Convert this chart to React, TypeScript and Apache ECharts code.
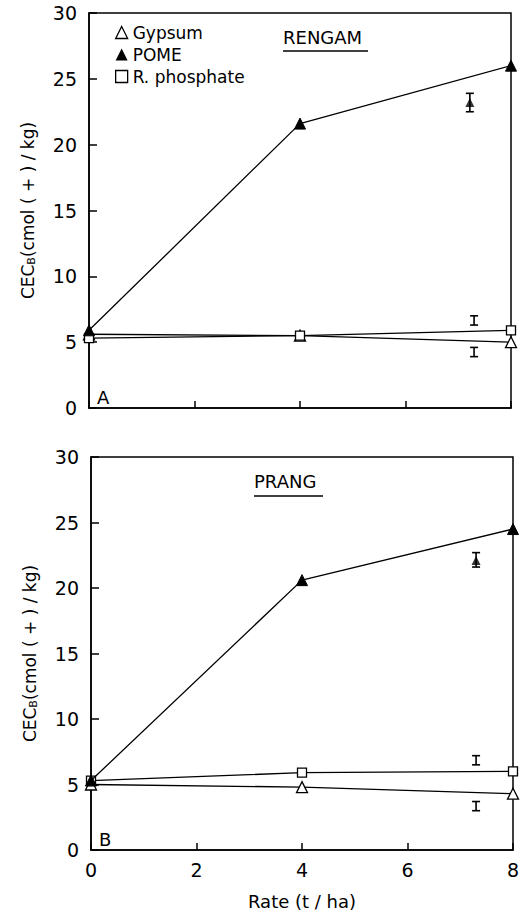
import React, { useEffect, useRef } from "react";
import * as echarts from "echarts";

const rates = [0, 4, 8];
const xTicks = [0, 2, 4, 6, 8];
const yTicks = [0, 5, 10, 15, 20, 25, 30];

const rengamGypsum = [5.6, 5.5, 5.0];
const rengamPome = [5.9, 21.6, 26.0];
const rengamRphos = [5.3, 5.5, 5.9];
const prangGypsum = [5.0, 4.8, 4.3];
const prangPome = [5.3, 20.6, 24.5];
const prangRphos = [5.3, 5.9, 6.0];

// error / LSD bars: [x, low, high]
const rengamBars = [
  [7.22, 22.5, 23.9],
  [7.3, 6.3, 7.0],
  [7.3, 3.9, 4.6],
];
const rengamPomeMean = [[7.22, 23.2]];
const prangBars = [
  [7.3, 21.6, 22.7],
  [7.3, 6.5, 7.2],
  [7.3, 3.0, 3.7],
];
const prangPomeMean = [[7.3, 22.1]];

const FONT = "DejaVu Sans";

export default function App() {
  const ref = useRef<HTMLDivElement>(null);
  useEffect(() => {
    if (!ref.current) return;
    const chart = echarts.init(ref.current, undefined, { renderer: "svg" });
    const pair = (ys: number[]) => rates.map((r, i) => [r, ys[i]]);
    const openStyle = { color: "#fff", borderColor: "#000", borderWidth: 1.3 };
    const lineStyle = { color: "#000", width: 1.3 };
    const mkLine = (name: string, ys: number[], idx: number, symbol: string, filled: boolean) => ({
      type: "line",
      name,
      xAxisIndex: idx,
      yAxisIndex: idx,
      data: pair(ys),
      symbol,
      symbolSize: symbol === "rect" ? 9 : 11,
      itemStyle: filled ? { color: "#000", borderColor: "#000" } : openStyle,
      lineStyle,
      z: symbol === "triangle" && filled ? 4 : 3,
    });
    const renderBar = (params: any, api: any) => {
      const x = api.value(0);
      const p1 = api.coord([x, api.value(1)]);
      const p2 = api.coord([x, api.value(2)]);
      const w = 4;
      const st = { stroke: "#000", lineWidth: 1.6 };
      return {
        type: "group",
        children: [
          { type: "line", shape: { x1: p1[0], y1: p1[1], x2: p2[0], y2: p2[1] }, style: st },
          { type: "line", shape: { x1: p1[0] - w, y1: p1[1], x2: p1[0] + w, y2: p1[1] }, style: st },
          { type: "line", shape: { x1: p2[0] - w, y1: p2[1], x2: p2[0] + w, y2: p2[1] }, style: st },
        ],
      };
    };
    const mkBars = (data: number[][], idx: number) => ({
      type: "custom",
      xAxisIndex: idx,
      yAxisIndex: idx,
      data,
      encode: { x: 0, y: [1, 2] },
      renderItem: renderBar,
      z: 5,
    });
    const mkMean = (data: number[][], idx: number) => ({
      type: "scatter",
      xAxisIndex: idx,
      yAxisIndex: idx,
      data,
      symbol: "triangle",
      symbolSize: 9,
      itemStyle: { color: "#000" },
      z: 6,
    });
    const xAxis = (idx: number, showLabels: boolean) => ({
      type: "value",
      gridIndex: idx,
      min: 0,
      max: 8,
      interval: 2,
      axisLine: { show: true, lineStyle: { color: "#000", width: 1.5 } },
      axisTick: { show: true, inside: true, length: 7, lineStyle: { color: "#000", width: 1.5 } },
      axisLabel: {
        show: showLabels,
        color: "#000",
        fontSize: 19,
        fontFamily: FONT,
        margin: 10,
        formatter: (v: number) => (xTicks.includes(v) ? String(v) : ""),
      },
      splitLine: { show: false },
      name: showLabels ? "Rate (t / ha)" : "",
      nameLocation: "middle",
      nameGap: 42,
      nameTextStyle: { color: "#000", fontSize: 18, fontFamily: FONT },
    });
    const yAxis = (idx: number) => ({
      type: "value",
      gridIndex: idx,
      min: 0,
      max: 30,
      interval: 5,
      axisLine: { show: true, lineStyle: { color: "#000", width: 1.5 } },
      axisTick: { show: true, inside: true, length: 8, lineStyle: { color: "#000", width: 1.5 } },
      axisLabel: {
        color: "#000",
        fontSize: 19,
        fontFamily: FONT,
        margin: 12,
        formatter: (v: number) => (yTicks.includes(v) ? String(v) : ""),
      },
      splitLine: { show: false },
      name: "CEC{sub|B}(cmol ( + ) / kg)",
      nameLocation: "middle",
      nameGap: 52,
      nameRotate: 90,
      nameTextStyle: {
        color: "#000",
        fontSize: 17,
        fontFamily: FONT,
        rich: {
          sub: { fontSize: 11, fontFamily: FONT, color: "#000", verticalAlign: "bottom", padding: [8, 0, 0, 0] },
        },
      },
    });
    const textStyle = { fill: "#000", fontFamily: FONT };
    chart.setOption({
      animation: false,
      backgroundColor: "#fff",
      textStyle: { fontFamily: FONT },
      grid: [
        { left: 89, top: 13, width: 422, height: 395, show: true, borderColor: "#000", borderWidth: 1.5, backgroundColor: "transparent" },
        { left: 91, top: 457, width: 422, height: 394, show: true, borderColor: "#000", borderWidth: 1.5, backgroundColor: "transparent" },
      ],
      xAxis: [xAxis(0, false), xAxis(1, true)],
      yAxis: [yAxis(0), yAxis(1)],
      legend: {
        orient: "vertical",
        left: 110,
        top: 19,
        itemGap: 5,
        itemWidth: 12,
        itemHeight: 12,
        textStyle: { color: "#000", fontSize: 17, fontFamily: FONT },
        data: [
          { name: "Gypsum", icon: "triangle", itemStyle: openStyle },
          { name: "POME", icon: "triangle", itemStyle: { color: "#000" } },
          { name: "R. phosphate", icon: "rect", itemStyle: openStyle },
        ],
      },
      series: [
        mkLine("Gypsum", rengamGypsum, 0, "triangle", false),
        mkLine("POME", rengamPome, 0, "triangle", true),
        mkLine("R. phosphate", rengamRphos, 0, "rect", false),
        mkBars(rengamBars, 0),
        mkMean(rengamPomeMean, 0),
        mkLine("Gypsum", prangGypsum, 1, "triangle", false),
        mkLine("POME", prangPome, 1, "triangle", true),
        mkLine("R. phosphate", prangRphos, 1, "rect", false),
        mkBars(prangBars, 1),
        mkMean(prangPomeMean, 1),
      ],
      graphic: [
        { type: "text", left: 283, top: 28, style: { ...textStyle, text: "RENGAM", fontSize: 18 } },
        { type: "line", shape: { x1: 283, y1: 51, x2: 368, y2: 51 }, style: { stroke: "#000", lineWidth: 1.5 } },
        { type: "text", left: 254, top: 472, style: { ...textStyle, text: "PRANG", fontSize: 18 } },
        { type: "line", shape: { x1: 254, y1: 496, x2: 323, y2: 496 }, style: { stroke: "#000", lineWidth: 1.5 } },
        { type: "text", left: 97, top: 388, style: { ...textStyle, text: "A", fontSize: 18 } },
        { type: "text", left: 99, top: 830, style: { ...textStyle, text: "B", fontSize: 18 } },
      ],
    });
    return () => chart.dispose();
  }, []);
  return (
    <div
      ref={ref}
      style={{ position: "fixed", left: 0, top: 0, width: 526, height: 911, background: "#fff" }}
    />
  );
}
